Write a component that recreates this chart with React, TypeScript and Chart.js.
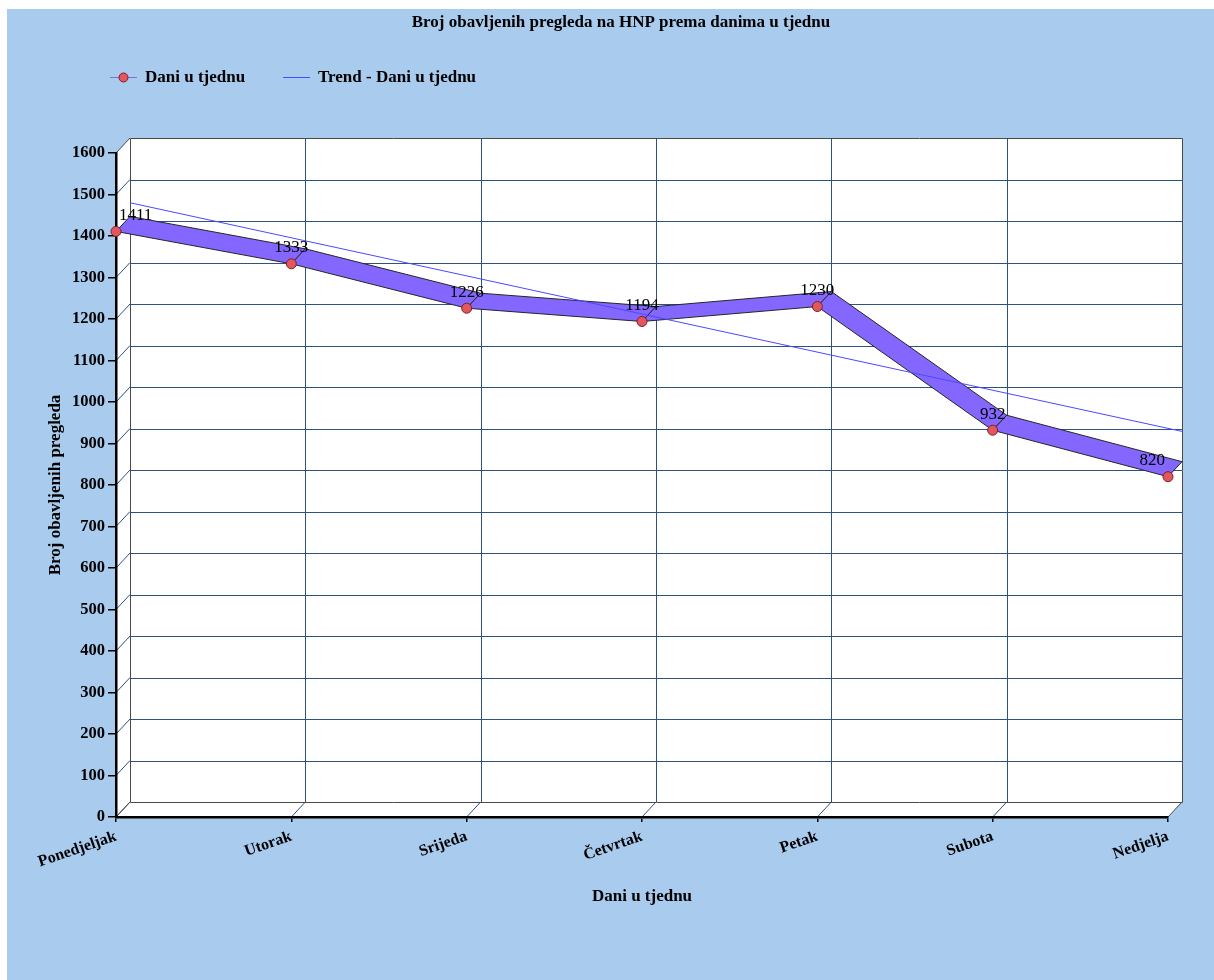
import React, { useEffect, useRef } from 'react';
import { Chart, registerables } from 'chart.js';

Chart.register(...registerables);

// ---- data ----
const categories = ['Ponedjeljak', 'Utorak', 'Srijeda', 'Četvrtak', 'Petak', 'Subota', 'Nedjelja'];
const visits = [1411, 1333, 1226, 1194, 1230, 932, 820];
const trendValues: (number | null)[] = [1444, null, null, null, null, null, 893];
const yMin = 0;
const yMax = 1600;
const yStep = 100;
const chartTitle = 'Broj obavljenih pregleda na HNP prema danima u tjednu';
const seriesName = 'Dani u tjednu';
const trendName = 'Trend - Dani u tjednu';
const xTitle = 'Dani u tjednu';
const yTitle = 'Broj obavljenih pregleda';

// ---- style ----
const W = 1207;
const H = 971;
const DX = 14;
const DY = -15;
const FONT = '"Liberation Serif", "Times New Roman", serif';
const BG = '#A9CBEE';
const GRID = '#2C5282';
const EDGE = '#4A4A4A';
const RIBBON = '#8467FE';
const RIBBON_EDGE = '#262626';
const TREND = '#4A4AFF';
const MARKER = '#E2575F';
const MARKER_EDGE = '#7A1F24';

const depthPlugin = {
  id: 'depth3d',
  beforeDraw(chart: any) {
    const { ctx, chartArea: a, scales } = chart;
    const x = scales.x;
    const y = scales.y;
    const L = a.left, R = a.right, T = a.top, B = a.bottom;
    ctx.save();
    // walls
    ctx.fillStyle = '#ffffff';
    ctx.beginPath();
    ctx.moveTo(L, T);
    ctx.lineTo(L + DX, T + DY);
    ctx.lineTo(R + DX, T + DY);
    ctx.lineTo(R + DX, B + DY);
    ctx.lineTo(R, B);
    ctx.lineTo(L, B);
    ctx.closePath();
    ctx.fill();

    ctx.lineWidth = 1;
    // horizontal grid + side wall diagonals
    y.ticks.forEach((t: any) => {
      const py = y.getPixelForValue(t.value);
      const by = Math.round(py + DY) + 0.5;
      ctx.strokeStyle = GRID;
      if (t.value !== yMin && t.value !== yMax) {
        ctx.beginPath();
        ctx.moveTo(L + DX, by);
        ctx.lineTo(R + DX, by);
        ctx.stroke();
      }
      ctx.strokeStyle = t.value === yMax || t.value === yMin ? EDGE : GRID;
      ctx.beginPath();
      ctx.moveTo(L, py);
      ctx.lineTo(L + DX, py + DY);
      ctx.stroke();
    });
    // vertical grid + floor diagonals
    categories.forEach((_, i) => {
      const px = x.getPixelForValue(i);
      const bx = Math.round(px + DX) + 0.5;
      ctx.strokeStyle = GRID;
      if (i !== 0 && i !== categories.length - 1) {
        ctx.beginPath();
        ctx.moveTo(bx, T + DY);
        ctx.lineTo(bx, B + DY);
        ctx.stroke();
      }
      ctx.strokeStyle = i === 0 || i === categories.length - 1 ? EDGE : GRID;
      ctx.beginPath();
      ctx.moveTo(px, B);
      ctx.lineTo(px + DX, B + DY);
      ctx.stroke();
    });
    // back wall outline
    ctx.strokeStyle = EDGE;
    const bl = Math.round(L + DX) + 0.5, br = Math.round(R + DX) + 0.5;
    const bt = Math.round(T + DY) + 0.5, bb = Math.round(B + DY) + 0.5;
    ctx.beginPath();
    ctx.moveTo(bl, bb);
    ctx.lineTo(bl, bt);
    ctx.lineTo(br, bt);
    ctx.lineTo(br, bb);
    ctx.lineTo(bl, bb);
    ctx.stroke();
    ctx.restore();
  },
  beforeDatasetDraw(chart: any, args: any) {
    const ctx = chart.ctx;
    if (args.index === 1) {
      ctx.save();
      ctx.translate(DX, DY);
    }
    if (args.index === 0) {
      const pts = args.meta.data;
      ctx.save();
      ctx.fillStyle = RIBBON;
      ctx.strokeStyle = RIBBON_EDGE;
      ctx.lineWidth = 1;
      ctx.lineJoin = 'round';
      for (let i = 0; i < pts.length - 1; i++) {
        const p = pts[i], q = pts[i + 1];
        ctx.beginPath();
        ctx.moveTo(p.x, p.y);
        ctx.lineTo(q.x, q.y);
        ctx.lineTo(q.x + DX, q.y + DY);
        ctx.lineTo(p.x + DX, p.y + DY);
        ctx.closePath();
        ctx.fill();
        ctx.stroke();
      }
      ctx.restore();
    }
  },
  afterDatasetDraw(chart: any, args: any) {
    if (args.index === 1) chart.ctx.restore();
  },
  afterDatasetsDraw(chart: any) {
    const { ctx, chartArea: a } = chart;
    const meta = chart.getDatasetMeta(0);
    ctx.save();
    ctx.font = `17px ${FONT}`;
    ctx.fillStyle = '#000';
    ctx.textAlign = 'center';
    ctx.textBaseline = 'middle';
    meta.data.forEach((pt: any, i: number) => {
      const txt = String(visits[i]);
      const w = ctx.measureText(txt).width;
      const cx = Math.min(Math.max(pt.x, a.left + w / 2 + 3), a.right - w / 2 - 3);
      ctx.fillText(txt, cx, pt.y - 16);
    });
    ctx.restore();
  },
  afterDraw(chart: any) {
    const ctx = chart.ctx;
    const ly = 68;
    ctx.save();
    // item 1
    ctx.strokeStyle = '#7B6CF0';
    ctx.lineWidth = 1;
    ctx.beginPath();
    ctx.moveTo(103, ly + 0.5);
    ctx.lineTo(130, ly + 0.5);
    ctx.stroke();
    ctx.fillStyle = MARKER;
    ctx.strokeStyle = MARKER_EDGE;
    ctx.beginPath();
    ctx.arc(116.5, ly + 0.5, 4.5, 0, Math.PI * 2);
    ctx.fill();
    ctx.stroke();
    ctx.font = `bold 17px ${FONT}`;
    ctx.fillStyle = '#000';
    ctx.textAlign = 'left';
    ctx.textBaseline = 'middle';
    ctx.fillText(seriesName, 138, ly + 1);
    // item 2
    ctx.strokeStyle = TREND;
    ctx.beginPath();
    ctx.moveTo(276, ly + 0.5);
    ctx.lineTo(303, ly + 0.5);
    ctx.stroke();
    ctx.fillText(trendName, 311, ly + 1);
    ctx.restore();
  },
};

export default function App() {
  const ref = useRef<HTMLCanvasElement>(null);
  useEffect(() => {
    if (!ref.current) return;
    const chart = new Chart(ref.current, {
      type: 'line',
      data: {
        labels: categories,
        datasets: [
          {
            label: seriesName,
            data: visits,
            showLine: false,
            borderColor: RIBBON,
            backgroundColor: RIBBON,
            pointRadius: 5,
            pointBackgroundColor: MARKER,
            pointBorderColor: MARKER_EDGE,
            pointBorderWidth: 1,
            order: 2,
            clip: false as any,
          },
          {
            label: trendName,
            data: trendValues,
            spanGaps: true,
            borderColor: TREND,
            borderWidth: 1,
            pointRadius: 0,
            fill: false,
            order: 1,
            clip: false as any,
          },
        ],
      },
      options: {
        responsive: false,
        animation: false,
        events: [],
        layout: { padding: { left: 21, right: 0, top: 0, bottom: 0 } },
        plugins: {
          legend: { display: false },
          tooltip: { enabled: false },
          title: {
            display: true,
            text: chartTitle,
            color: '#000',
            font: { family: FONT, size: 17, weight: 'bold' },
            padding: { top: 3.5, bottom: 120.1 },
          },
        },
        scales: {
          x: {
            type: 'category',
            offset: false,
            grid: { display: true, drawOnChartArea: false, drawTicks: true, tickLength: 5, tickColor: '#000', lineWidth: 1.5 },
            border: { display: true, color: '#000', width: 2.5 },
            ticks: {
              color: '#000',
              font: { family: FONT, size: 16, weight: 'bold' },
              minRotation: 19,
              maxRotation: 19,
              autoSkip: false,
              padding: 5,
            },
            title: {
              display: true,
              text: xTitle,
              color: '#000',
              font: { family: FONT, size: 17, weight: 'bold' },
              padding: { top: 0, bottom: 73 },
            },
            afterFit: (s: any) => { s.height = H - 808; },
          },
          y: {
            type: 'linear',
            position: 'left',
            min: yMin,
            max: yMax,
            grid: { display: true, drawOnChartArea: false, drawTicks: true, tickLength: 8, tickColor: '#000', lineWidth: 1.5 },
            border: { display: true, color: '#000', width: 2.5 },
            ticks: {
              stepSize: yStep,
              color: '#000',
              font: { family: FONT, size: 16.5, weight: 'bold' },
              padding: 3,
              callback: (v: any) => String(v),
            },
            title: {
              display: true,
              text: yTitle,
              color: '#000',
              font: { family: FONT, size: 17, weight: 'bold' },
              padding: { top: 17, bottom: 0 },
            },
            afterFit: (s: any) => { s.width = 88; },
          },
          yR: {
            type: 'linear',
            position: 'right',
            display: true,
            grid: { display: false },
            border: { display: false },
            ticks: { display: false },
            afterFit: (s: any) => { s.width = W - 1161; },
          },
        },
      } as any,
      plugins: [depthPlugin],
    });
    return () => chart.destroy();
  }, []);

  return (
    <div style={{ position: 'absolute', left: 7, top: 9, width: W, height: H, background: BG }}>
      <canvas ref={ref} width={W} height={H} style={{ display: 'block' }} />
    </div>
  );
}
